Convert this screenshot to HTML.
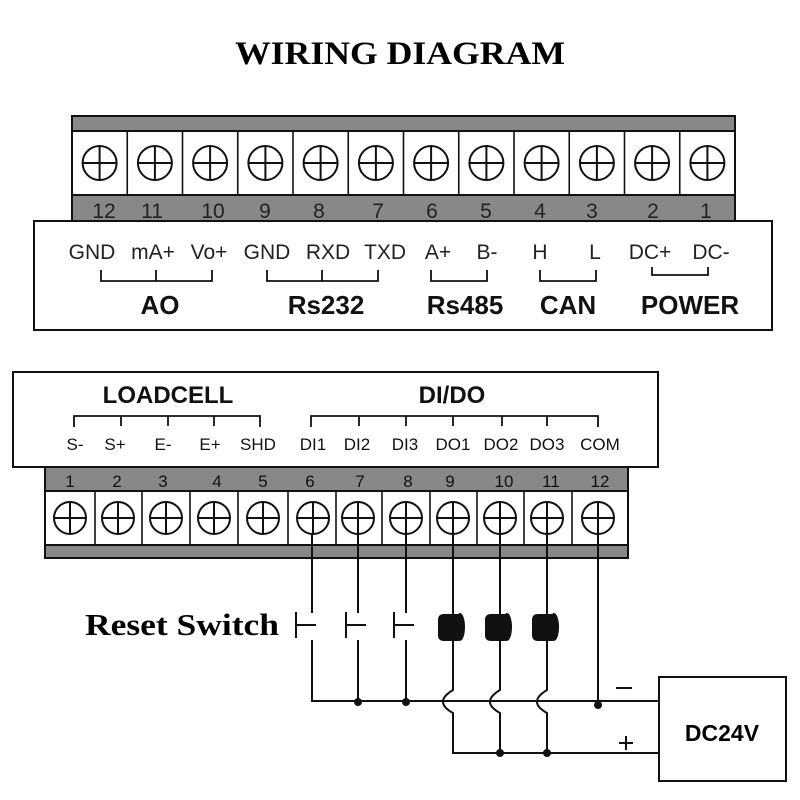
<!DOCTYPE html>
<html><head><meta charset="utf-8"><style>
html,body{margin:0;padding:0;background:#fff}
svg{display:block}
.n{font-family:"Liberation Sans",sans-serif;font-size:21px;fill:#222;text-anchor:middle}
.s{font-family:"Liberation Sans",sans-serif;font-size:17px;fill:#111;text-anchor:middle}
.b{font-family:"Liberation Sans",sans-serif;font-size:26px;font-weight:bold;fill:#111;text-anchor:middle}
</style></head><body>
<svg width="800" height="800" viewBox="0 0 800 800" xmlns="http://www.w3.org/2000/svg">
<rect width="800" height="800" fill="#fff"/>
<text x="400" y="64" font-family="Liberation Serif,serif" font-weight="bold" font-size="33" text-anchor="middle" textLength="330" lengthAdjust="spacingAndGlyphs">WIRING DIAGRAM</text>

<!-- TOP TERMINAL BLOCK -->
<g stroke="#111" stroke-width="2">
<rect x="72" y="116" width="663" height="15" fill="#888"/>
<rect x="72" y="131" width="663" height="64" fill="#fff"/>
<rect x="72" y="195" width="663" height="26" fill="#888"/>
<rect x="34" y="221" width="738" height="109" fill="#fff"/>
</g>
<g stroke="#111" stroke-width="1.6" fill="none">
<line x1="127.25" y1="131" x2="127.25" y2="195"/><line x1="182.5" y1="131" x2="182.5" y2="195"/>
<line x1="237.75" y1="131" x2="237.75" y2="195"/><line x1="293" y1="131" x2="293" y2="195"/>
<line x1="348.25" y1="131" x2="348.25" y2="195"/><line x1="403.5" y1="131" x2="403.5" y2="195"/>
<line x1="458.75" y1="131" x2="458.75" y2="195"/><line x1="514" y1="131" x2="514" y2="195"/>
<line x1="569.25" y1="131" x2="569.25" y2="195"/><line x1="624.5" y1="131" x2="624.5" y2="195"/>
<line x1="679.75" y1="131" x2="679.75" y2="195"/>
</g>
<g stroke="#111" stroke-width="2" fill="none">
<circle cx="99.6" cy="163" r="17"/><path d="M82.6 163h34M99.6 146v34"/>
<circle cx="154.9" cy="163" r="17"/><path d="M137.9 163h34M154.9 146v34"/>
<circle cx="210.1" cy="163" r="17"/><path d="M193.1 163h34M210.1 146v34"/>
<circle cx="265.4" cy="163" r="17"/><path d="M248.4 163h34M265.4 146v34"/>
<circle cx="320.6" cy="163" r="17"/><path d="M303.6 163h34M320.6 146v34"/>
<circle cx="375.9" cy="163" r="17"/><path d="M358.9 163h34M375.9 146v34"/>
<circle cx="431.1" cy="163" r="17"/><path d="M414.1 163h34M431.1 146v34"/>
<circle cx="486.4" cy="163" r="17"/><path d="M469.4 163h34M486.4 146v34"/>
<circle cx="541.6" cy="163" r="17"/><path d="M524.6 163h34M541.6 146v34"/>
<circle cx="596.9" cy="163" r="17"/><path d="M579.9 163h34M596.9 146v34"/>
<circle cx="652.1" cy="163" r="17"/><path d="M635.1 163h34M652.1 146v34"/>
<circle cx="707.4" cy="163" r="17"/><path d="M690.4 163h34M707.4 146v34"/>
</g>
<g class="n">
<text x="104" y="218">12</text><text x="152" y="218">11</text><text x="213" y="218">10</text>
<text x="265" y="218">9</text><text x="319" y="218">8</text><text x="378" y="218">7</text>
<text x="432" y="218">6</text><text x="486" y="218">5</text><text x="540" y="218">4</text>
<text x="592" y="218">3</text><text x="653" y="218">2</text><text x="706" y="218">1</text>
<text x="92" y="259">GND</text><text x="153" y="259">mA+</text><text x="209" y="259">Vo+</text>
<text x="267" y="259">GND</text><text x="328" y="259">RXD</text><text x="385" y="259">TXD</text>
<text x="438" y="259">A+</text><text x="487" y="259">B-</text>
<text x="540" y="259">H</text><text x="595" y="259">L</text>
<text x="650" y="259">DC+</text><text x="711" y="259">DC-</text>
</g>
<g stroke="#111" stroke-width="1.8" fill="none">
<path d="M101 270v11h111v-11M156 270v11"/>
<path d="M267 270v11h111v-11M322 270v11"/>
<path d="M431 270v11h56v-11"/>
<path d="M540 270v11h56v-11"/>
<path d="M652 267v8h56v-8"/>
</g>
<g class="b">
<text x="160" y="314">AO</text><text x="326" y="314">Rs232</text><text x="465" y="314">Rs485</text>
<text x="568" y="314">CAN</text><text x="690" y="314">POWER</text>
</g>

<!-- BOTTOM BLOCK -->
<g stroke="#111" stroke-width="2">
<rect x="13" y="372" width="645" height="95" fill="#fff"/>
<rect x="45" y="467" width="583" height="24" fill="#888"/>
<rect x="45" y="491" width="583" height="54" fill="#fff"/>
<rect x="45" y="545" width="583" height="13" fill="#888"/>
</g>
<g stroke="#111" stroke-width="1.6">
<line x1="95" y1="491" x2="95" y2="545"/><line x1="142" y1="491" x2="142" y2="545"/>
<line x1="190" y1="491" x2="190" y2="545"/><line x1="238" y1="491" x2="238" y2="545"/>
<line x1="288" y1="491" x2="288" y2="545"/><line x1="336" y1="491" x2="336" y2="545"/>
<line x1="382" y1="491" x2="382" y2="545"/><line x1="430" y1="491" x2="430" y2="545"/>
<line x1="477" y1="491" x2="477" y2="545"/><line x1="524" y1="491" x2="524" y2="545"/>
<line x1="572" y1="491" x2="572" y2="545"/>
</g>
<g stroke="#111" stroke-width="2" fill="none">
<circle cx="70" cy="518" r="16"/><path d="M54 518h32M70 502v32"/>
<circle cx="118" cy="518" r="16"/><path d="M102 518h32M118 502v32"/>
<circle cx="166" cy="518" r="16"/><path d="M150 518h32M166 502v32"/>
<circle cx="214" cy="518" r="16"/><path d="M198 518h32M214 502v32"/>
<circle cx="263" cy="518" r="16"/><path d="M247 518h32M263 502v32"/>
<circle cx="313" cy="518" r="16"/><path d="M297 518h32M313 502v32"/>
<circle cx="358" cy="518" r="16"/><path d="M342 518h32M358 502v32"/>
<circle cx="406" cy="518" r="16"/><path d="M390 518h32M406 502v32"/>
<circle cx="453" cy="518" r="16"/><path d="M437 518h32M453 502v32"/>
<circle cx="500" cy="518" r="16"/><path d="M484 518h32M500 502v32"/>
<circle cx="547" cy="518" r="16"/><path d="M531 518h32M547 502v32"/>
<circle cx="598" cy="518" r="16"/><path d="M582 518h32M598 502v32"/>
</g>
<g class="s">
<text x="70" y="487">1</text><text x="117" y="487">2</text><text x="163" y="487">3</text>
<text x="217" y="487">4</text><text x="263" y="487">5</text><text x="310" y="487">6</text>
<text x="360" y="487">7</text><text x="408" y="487">8</text><text x="450" y="487">9</text>
<text x="504" y="487">10</text><text x="551" y="487">11</text><text x="600" y="487">12</text>
<text x="75" y="450">S-</text><text x="115" y="450">S+</text><text x="163" y="450">E-</text>
<text x="210" y="450">E+</text><text x="258" y="450">SHD</text><text x="313" y="450">DI1</text>
<text x="357" y="450">DI2</text><text x="405" y="450">DI3</text><text x="453" y="450">DO1</text>
<text x="501" y="450">DO2</text><text x="547" y="450">DO3</text><text x="600" y="450">COM</text>
</g>
<g stroke="#111" stroke-width="1.8" fill="none">
<path d="M74 427v-11h186v11M121 416v10M168 416v10M214 416v10"/>
<path d="M311 427v-11h287v11M359 416v10M406 416v10M453 416v10M502 416v10M547 416v10"/>
</g>
<g class="b" style="font-size:24px">
<text x="168" y="403">LOADCELL</text><text x="452" y="403">DI/DO</text>
</g>

<!-- WIRING -->
<g stroke="#111" stroke-width="2" fill="none">
<path d="M312 534V613M312 640V701H658"/>
<path d="M358 534V613M358 640V701"/>
<path d="M406 534V613M406 640V701"/>
<path d="M296 612v26M296 625h20M346 612v26M346 625h20M394 612v26M394 625h20"/>
<path d="M598 534V703"/>
<path d="M453 534V690q-20 12 0 23V753H658"/>
<path d="M500 534V690q-20 12 0 23V753"/>
<path d="M547 534V690q-20 12 0 23V753"/>
<path d="M616 688h16M619 743h14M626 736v14"/>
<rect x="659" y="677" width="127" height="104"/>
</g>
<g fill="#111">
<path d="M444 614h15v27h-15q-6 0-6-6v-15q0-6 6-6z"/><ellipse cx="460" cy="627" rx="5" ry="14"/>
<path d="M491 614h15v27h-15q-6 0-6-6v-15q0-6 6-6z"/><ellipse cx="507" cy="627" rx="5" ry="14"/>
<path d="M538 614h15v27h-15q-6 0-6-6v-15q0-6 6-6z"/><ellipse cx="554" cy="627" rx="5" ry="14"/>
<circle cx="358" cy="702" r="4"/><circle cx="406" cy="702" r="4"/><circle cx="598" cy="705" r="4"/>
<circle cx="500" cy="753" r="4"/><circle cx="547" cy="753" r="4"/>
</g>
<text x="722" y="741" font-family="Liberation Sans,sans-serif" font-weight="bold" font-size="23" text-anchor="middle">DC24V</text>
<text x="85" y="635" font-family="Liberation Serif,serif" font-weight="bold" font-size="31" textLength="194" lengthAdjust="spacingAndGlyphs">Reset Switch</text>
</svg>
</body></html>
